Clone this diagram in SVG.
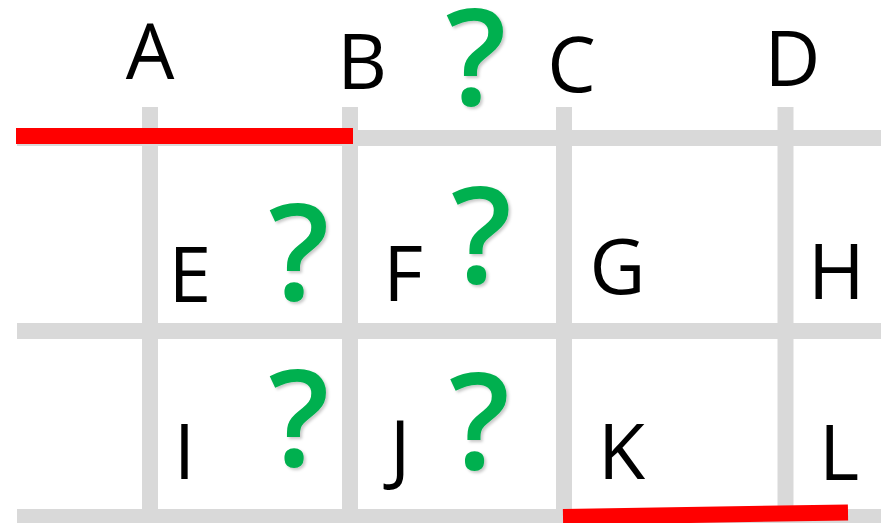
<svg xmlns="http://www.w3.org/2000/svg" width="881" height="523" viewBox="0 0 881 523">
<defs>
<filter id="sh" x="-20%" y="-20%" width="150%" height="150%">
<feDropShadow dx="2" dy="2" stdDeviation="1.5" flood-color="#000" flood-opacity="0.22"/>
</filter>
</defs>
<style>
.g{stroke:#d9d9d9;stroke-width:16;fill:none}
.r{stroke:#ff0000;stroke-width:16;fill:none}
.t{font-family:"Open Sans","Liberation Sans",sans-serif;font-size:77px;fill:#000;text-anchor:middle}
.q{font-family:"Open Sans","Liberation Sans",sans-serif;font-weight:600;font-size:134px;fill:#00b050;text-anchor:middle;filter:url(#sh)}
</style>
<rect width="881" height="523" fill="#fff"/>
<g id="connectors">
<line class="g" x1="17" y1="138" x2="881" y2="138"/>
<line class="g" x1="17" y1="331" x2="881" y2="331"/>
<line class="g" x1="17" y1="517" x2="881" y2="517"/>
<line class="g" x1="150" y1="107" x2="150" y2="523"/>
<line class="g" x1="350" y1="107" x2="350" y2="523"/>
<line class="g" x1="564" y1="107" x2="564" y2="523"/>
<line class="g" x1="785.5" y1="107" x2="785.5" y2="523"/>
<line class="r" x1="16" y1="136" x2="353" y2="136"/>
<line class="r" x1="563" y1="517" x2="848" y2="512.5"/>
</g>
<g id="A"><text class="t" x="150" y="79">A</text></g>
<g id="B"><text class="t" x="362" y="89">B</text></g>
<g id="C"><text class="t" x="571.5" y="92">C</text></g>
<g id="D"><text class="t" x="792.5" y="86">D</text></g>
<g id="E"><text class="t" x="190" y="302">E</text></g>
<g id="F"><text class="t" x="403" y="301">F</text></g>
<g id="G"><text class="t" x="617.5" y="294">G</text></g>
<g id="H"><text class="t" x="836.5" y="299">H</text></g>
<g id="I"><text class="t" x="184.5" y="479">I</text></g>
<g id="J"><text class="t" x="400" y="476">J</text></g>
<g id="K"><text class="t" x="621.5" y="479">K</text></g>
<g id="L"><text class="t" x="839" y="480">L</text></g>
<g id="q1"><text class="q" x="476" y="105">?</text></g>
<g id="q2"><text class="q" x="299" y="300">?</text></g>
<g id="q3"><text class="q" x="481.5" y="283">?</text></g>
<g id="q4"><text class="q" x="299" y="466">?</text></g>
<g id="q5"><text class="q" x="479.5" y="469">?</text></g>
</svg>
